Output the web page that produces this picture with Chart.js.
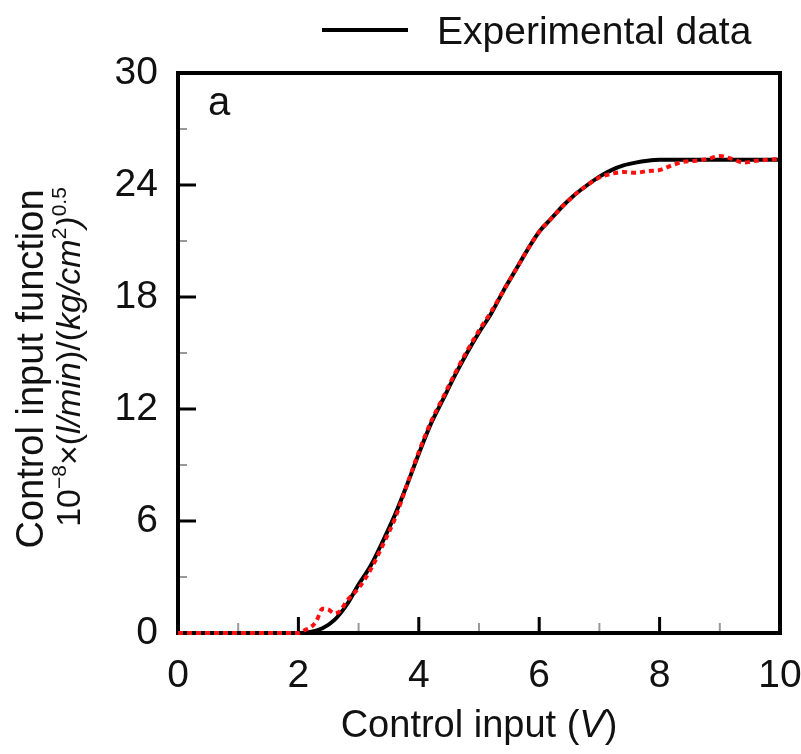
<!DOCTYPE html>
<html>
<head>
<meta charset="utf-8">
<script src="https://cdn.jsdelivr.net/npm/chart.js@4.4.0/dist/chart.umd.min.js"></script>
<style>
  body { margin: 0; background: #fff; }
  #wrap { width: 801px; height: 754px; }
</style>
</head>
<body>
<div id="wrap"><canvas id="grafico"></canvas></div>
<script>
// Datos
const xTicks = [0, 2, 4, 6, 8, 10];
const yTicks = [0, 6, 12, 18, 24, 30];

// curva negra (leyenda: Experimental data)
const blackX = [0, 2.0, 2.2, 2.4, 2.6, 2.8, 3.0, 3.2, 3.4, 3.6, 3.8, 4.0, 4.2, 4.4, 4.6, 4.8, 5.0, 5.2, 5.4, 5.6, 5.8, 6.0, 6.2, 6.4, 6.6, 6.8, 7.0, 7.2, 7.4, 7.6, 7.8, 8.0, 9.0, 10];
const blackY = [0, 0, 0.05, 0.25, 0.7, 1.5, 2.6, 3.6, 4.9, 6.3, 7.9, 9.6, 11.2, 12.5, 13.8, 15.0, 16.1, 17.1, 18.3, 19.4, 20.5, 21.5, 22.2, 22.9, 23.5, 24.0, 24.45, 24.8, 25.05, 25.2, 25.3, 25.35, 25.35, 25.35];

// puntos rojos
const redX = [0, 2.0, 2.1, 2.2, 2.3, 2.4, 2.5, 2.6, 2.7, 2.8, 3.0, 3.2, 3.4, 3.6, 3.8, 4.0, 4.2, 4.4, 4.6, 4.8, 5.0, 5.2, 5.4, 5.6, 5.8, 6.0, 6.2, 6.4, 6.6, 6.8, 7.0, 7.2, 7.4, 7.6, 7.8, 8.0, 8.2, 8.4, 8.6, 8.8, 9.0, 9.2, 9.4, 9.6, 9.8, 10];
const redY = [0, 0, 0.15, 0.3, 0.65, 1.3, 1.25, 1.05, 1.2, 1.7, 2.4, 3.4, 4.7, 6.1, 7.9, 9.7, 11.3, 12.6, 13.9, 15.1, 16.2, 17.2, 18.3, 19.4, 20.5, 21.5, 22.2, 22.9, 23.5, 24.0, 24.4, 24.6, 24.7, 24.65, 24.75, 24.8, 25.05, 25.25, 25.3, 25.4, 25.55, 25.4, 25.2, 25.3, 25.35, 25.4];

const FONT = 'Liberation Sans, Arial, sans-serif';

// Dibuja texto con segmentos en cursiva o superíndice, centrado en cx
function drawRuns(ctx, runs, cx, cy, size) {
  const fontFor = r => {
    if (r[1] === 'sup') return Math.round(size * 0.62) + 'px ' + FONT;
    return r[1] + size + 'px ' + FONT;
  };
  let total = 0;
  runs.forEach(r => { ctx.font = fontFor(r); total += ctx.measureText(r[0]).width; });
  let x = cx - total / 2;
  ctx.textAlign = 'left';
  ctx.textBaseline = 'alphabetic';
  runs.forEach(r => {
    ctx.font = fontFor(r);
    const dy = r[1] === 'sup' ? -size * 0.42 : 0;
    ctx.fillText(r[0], x, cy + dy);
    x += ctx.measureText(r[0]).width;
  });
}

// Marco y marcas internas (antes de las series, para que el rojo quede encima)
const marco = {
  id: 'marco',
  beforeDatasetsDraw(chart) {
    const ctx = chart.ctx;
    const area = chart.chartArea;
    const sx = chart.scales.x;
    const sy = chart.scales.y;
    ctx.save();

    // marcas menores (grises)
    ctx.strokeStyle = '#999';
    ctx.lineWidth = 2;
    for (let v = 1; v < 10; v += 2) {
      const px = sx.getPixelForValue(v);
      ctx.beginPath(); ctx.moveTo(px, area.bottom); ctx.lineTo(px, area.bottom - 10); ctx.stroke();
    }
    for (let v = 3; v < 30; v += 6) {
      const py = sy.getPixelForValue(v);
      ctx.beginPath(); ctx.moveTo(area.left, py); ctx.lineTo(area.left + 9, py); ctx.stroke();
    }
    // marcas mayores (negras)
    ctx.strokeStyle = '#000';
    ctx.lineWidth = 3;
    xTicks.slice(1, -1).forEach(v => {
      const px = sx.getPixelForValue(v);
      ctx.beginPath(); ctx.moveTo(px, area.bottom); ctx.lineTo(px, area.bottom - 16); ctx.stroke();
    });
    yTicks.slice(1, -1).forEach(v => {
      const py = sy.getPixelForValue(v);
      ctx.beginPath(); ctx.moveTo(area.left, py); ctx.lineTo(area.left + 18, py); ctx.stroke();
    });

    // marco
    ctx.lineWidth = 4;
    ctx.strokeRect(area.left, area.top, area.right - area.left, area.bottom - area.top);
    ctx.restore();
  }
};

// Títulos, etiqueta "a" y leyenda
const textos = {
  id: 'textos',
  afterDraw(chart) {
    const ctx = chart.ctx;
    const area = chart.chartArea;
    ctx.save();
    ctx.fillStyle = '#111';

    // etiqueta "a"
    ctx.font = '40px ' + FONT;
    ctx.textAlign = 'left';
    ctx.textBaseline = 'alphabetic';
    ctx.fillText('a', area.left + 30, area.top + 42);

    // leyenda
    ctx.strokeStyle = '#000';
    ctx.lineWidth = 4;
    ctx.beginPath(); ctx.moveTo(322, 30); ctx.lineTo(408, 30); ctx.stroke();
    ctx.font = '39px ' + FONT;
    ctx.fillText('Experimental data', 437, 44);

    // título eje x
    const partesX = [['Control input (', ''], ['V', 'italic '], [')', '']];
    drawRuns(ctx, partesX, (area.left + area.right) / 2, 737, 38);

    // título eje y (rotado)
    ctx.save();
    ctx.translate(43, 369);
    ctx.rotate(-Math.PI / 2);
    ctx.font = '38px ' + FONT;
    ctx.textAlign = 'center';
    ctx.fillText('Control input function', 0, 0);
    ctx.restore();

    ctx.save();
    ctx.translate(80, 357);
    ctx.rotate(-Math.PI / 2);
    const partesY = [
      ['10', ''], ['\u22128', 'sup'], ['\u00d7(', ''], ['l/min', 'italic '], [')/(', ''],
      ['kg/cm', 'italic '], ['2', 'sup'], [')', 'italic '], ['0.5', 'sup']
    ];
    drawRuns(ctx, partesY, 0, 0, 34);
    ctx.restore();

    ctx.restore();
  }
};

const ctx = document.getElementById('grafico').getContext('2d');
const grafico = new Chart(ctx, {
  type: 'line',
  data: {
    datasets: [
      {
        label: 'Model',
        data: redX.map((x, i) => ({ x: x, y: redY[i] })),
        borderColor: '#ff1010',
        borderWidth: 4,
        borderDash: [5, 4],
        pointRadius: 0,
        clip: false,
        cubicInterpolationMode: 'monotone',
        order: 0
      },
      {
        label: 'Experimental data',
        data: blackX.map((x, i) => ({ x: x, y: blackY[i] })),
        borderColor: '#000',
        backgroundColor: '#000',
        borderWidth: 4,
        pointRadius: 0,
        clip: false,
        cubicInterpolationMode: 'monotone',
        order: 1
      }
    ]
  },
  options: {
    responsive: true,
    maintainAspectRatio: false,
    animation: false,
    layout: { padding: { left: 0, right: 21, top: 73, bottom: 0 } },
    plugins: {
      tooltip: { enabled: false },
      legend: { display: false }
    },
    scales: {
      x: {
        type: 'linear',
        min: 0,
        max: 10,
        afterFit: s => { s.height = 121; s.paddingRight = 0; s.paddingLeft = 0; },
        afterBuildTicks: s => { s.ticks = xTicks.map(v => ({ value: v })); },
        grid: { display: false, drawTicks: false },
        border: { display: false },
        ticks: { color: '#111', font: { family: FONT, size: 39 }, padding: 20, maxRotation: 0 }
      },
      y: {
        type: 'linear',
        min: 0,
        max: 30,
        afterFit: s => { s.width = 178; },
        afterBuildTicks: s => { s.ticks = yTicks.map(v => ({ value: v })); },
        grid: { display: false, drawTicks: false },
        border: { display: false },
        ticks: { color: '#111', font: { family: FONT, size: 39 }, padding: 20 }
      }
    }
  },
  plugins: [marco, textos]
});
</script>
</body>
</html>
